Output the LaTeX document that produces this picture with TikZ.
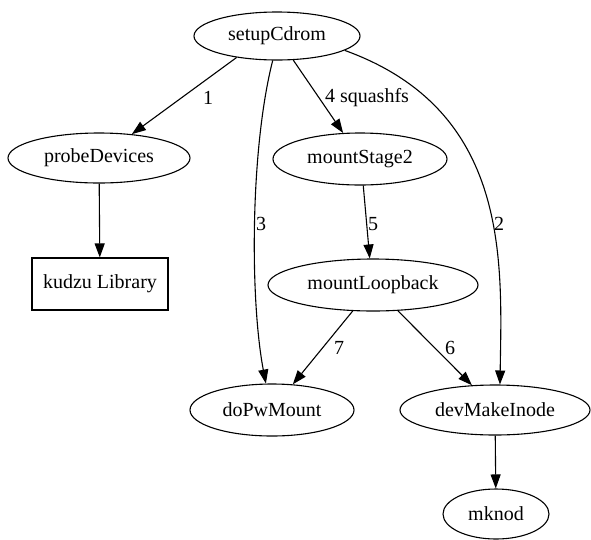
\documentclass[tikz,border=0pt]{standalone}
\usepackage{fontspec}
\setmainfont{Liberation Serif}
\usetikzlibrary{arrows.meta,shapes.geometric}
\begin{document}
\begin{tikzpicture}[x=1pt,y=-1pt,
  every node/.style={font=\fontsize{20}{24}\selectfont},
  ell/.style={draw,ellipse,inner sep=0pt,line width=1.1pt},
  boxnode/.style={draw,rectangle,inner sep=0pt,line width=1.1pt},
  lbl/.style={inner sep=0pt},
  arr/.style={line width=1.1pt,-{Triangle[length=14pt,width=10pt]}}]
\path[use as bounding box] (0,0) rectangle (591,539);
\node[ell,minimum width=166pt,minimum height=48pt] (setup) at (277,36) {setupCdrom};
\node[ell,minimum width=182pt,minimum height=50pt] (probe) at (99,158) {probeDevices};
\node[boxnode,minimum width=136pt,minimum height=52pt] (kudzu) at (100,284) {kudzu Library};
\node[ell,minimum width=174pt,minimum height=52pt] (stage2) at (360,159) {mountStage2};
\node[ell,minimum width=210pt,minimum height=52pt] (loop) at (373,285) {mountLoopback};
\node[ell,minimum width=164pt,minimum height=52pt] (dopw) at (272,410) {doPwMount};
\node[ell,minimum width=190pt,minimum height=50pt] (devmk) at (495,410) {devMakeInode};
\node[ell,minimum width=106pt,minimum height=50pt] (mknod) at (496,514) {mknod};

\draw[arr] (setup.-152) -- (probe.36);
\draw[arr] (setup.-56) -- (stage2.123);
\draw[arr] (setup.-100) .. controls (250,150) and (250,300) .. (dopw.103);
\draw[arr] (setup.-12) .. controls (510,110) and (502,260) .. (devmk.79);
\draw[arr] (stage2.-83) -- (loop.97);
\draw[arr] (loop.-128) -- (dopw.51);
\draw[arr] (loop.-46) -- (devmk.133);
\draw[arr] (probe) -- (kudzu);
\draw[arr] (devmk) -- (mknod);

\node[lbl] (l1) at (208,98) {1};
\node[lbl] (l4) at (367,98) {4 squashfs};
\node[lbl] (l3) at (261,224) {3};
\node[lbl] (l2) at (499,224) {2};
\node[lbl] (l5) at (373,224) {5};
\node[lbl] (l7) at (339,348) {7};
\node[lbl] (l6) at (450,348) {6};
\end{tikzpicture}
\end{document}
